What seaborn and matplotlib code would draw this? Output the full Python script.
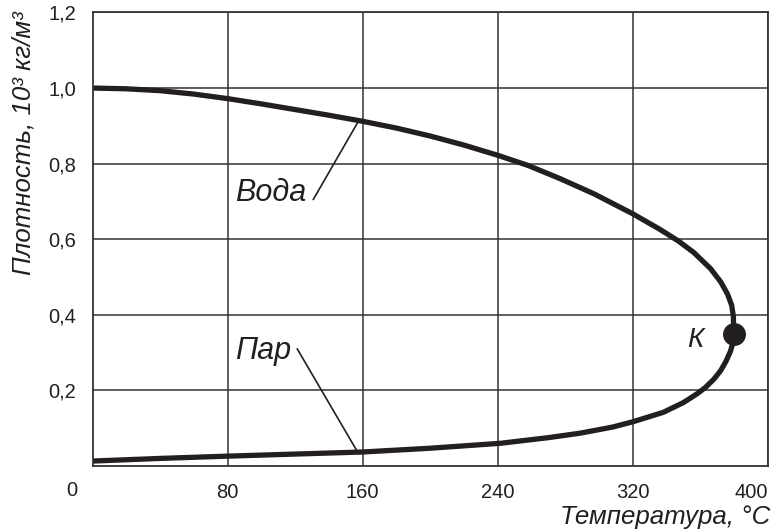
import numpy as np
import pandas as pd
import matplotlib
matplotlib.use('Agg')
import matplotlib.pyplot as plt
import seaborn as sns

# ── Data ──────────────────────────────────────────────────────
water_t   = [0, 20, 40, 60, 80, 100, 120, 140, 160, 180, 200, 220, 240, 258,
             277, 297, 320, 336, 347, 356, 366, 372, 376, 378.5, 379.5, 379.6]
water_rho = [1.000, 0.998, 0.993, 0.984, 0.972, 0.958, 0.943, 0.928, 0.912,
             0.894, 0.873, 0.849, 0.822, 0.795, 0.760, 0.720, 0.667, 0.626,
             0.595, 0.565, 0.522, 0.487, 0.455, 0.425, 0.395, 0.350]

steam_t   = [379.6, 379.3, 377.8, 375, 371.9, 368, 363, 358, 350, 338, 320,
             308, 289, 270, 241.5, 200, 160, 120, 80, 40, 0]
steam_rho = [0.350, 0.328, 0.304, 0.276, 0.252, 0.230, 0.208, 0.191, 0.168,
             0.142, 0.117, 0.103, 0.087, 0.075, 0.060, 0.047, 0.037, 0.0315,
             0.026, 0.020, 0.013]

crit_t, crit_rho = 379.6, 0.35

x_ticks = [80, 160, 240, 320, 400]
y_ticks = [0.2, 0.4, 0.6, 0.8, 1.0, 1.2]
y_tick_labels = ['0,2', '0,4', '0,6', '0,8', '1,0', '1,2']

curve = pd.DataFrame({
    't': water_t + steam_t,
    'rho': water_rho + steam_rho,
})

# ── Style ─────────────────────────────────────────────────────
sns.set_theme(style='white')
plt.rcParams['font.family'] = ['Liberation Sans', 'DejaVu Sans']
ink = '#231f20'

fig = plt.figure(figsize=(7.75, 5.3), dpi=100)
ax = fig.add_axes([0.1194, 0.1208, 0.8716, 0.8557])

ax.set_xlim(0, 400)
ax.set_ylim(0, 1.2)
ax.set_xticks(x_ticks)
ax.set_xticklabels([str(v) for v in x_ticks])
ax.set_yticks(y_ticks)
ax.set_yticklabels(y_tick_labels)
ax.tick_params(length=0, labelsize=14.5, colors=ink, pad=12)
ax.get_xticklabels()[-1].set_horizontalalignment('right')
ax.grid(True, color='#333333', linewidth=1.1)
for s in ax.spines.values():
    s.set_color('#333333')
    s.set_linewidth(1.3)

sns.lineplot(data=curve, x='t', y='rho', sort=False, estimator=None,
             color=ink, linewidth=3.8, ax=ax,
             solid_joinstyle='round', solid_capstyle='butt')
ax.plot([crit_t], [crit_rho], 'o', color=ink, markersize=15.5, zorder=5)
ax.set_xlabel('')
ax.set_ylabel('')

# corner zero
ax.text(-0.030, -0.053, '0', transform=ax.transAxes, ha='center', va='center',
        fontsize=14.5, color=ink)

# ── Labels on the curves ──────────────────────────────────────
ax.text(105.5, 0.722, 'Вода', fontsize=22, style='italic', color=ink,
        ha='center', va='center')
ax.plot([130.7, 157.3], [0.705, 0.911], color=ink, linewidth=1.2)

ax.text(101, 0.305, 'Пар', fontsize=22, style='italic', color=ink,
        ha='center', va='center')
ax.plot([121.2, 156.7], [0.31, 0.039], color=ink, linewidth=1.2)

ax.text(357, 0.333, 'К', fontsize=20, style='italic', color=ink,
        ha='center', va='center')

# ── Axis titles ───────────────────────────────────────────────
fig.text(770 / 775, 1 - 517 / 530, 'Температура, °C', fontsize=18.6,
         style='italic', color=ink, ha='right', va='center')
fig.text(24 / 775, 1 - 11 / 530, 'Плотность, 10³ кг/м³', fontsize=18.6,
         style='italic', color=ink, ha='center', va='top', rotation=90)

fig.savefig('out.png', dpi=100)
